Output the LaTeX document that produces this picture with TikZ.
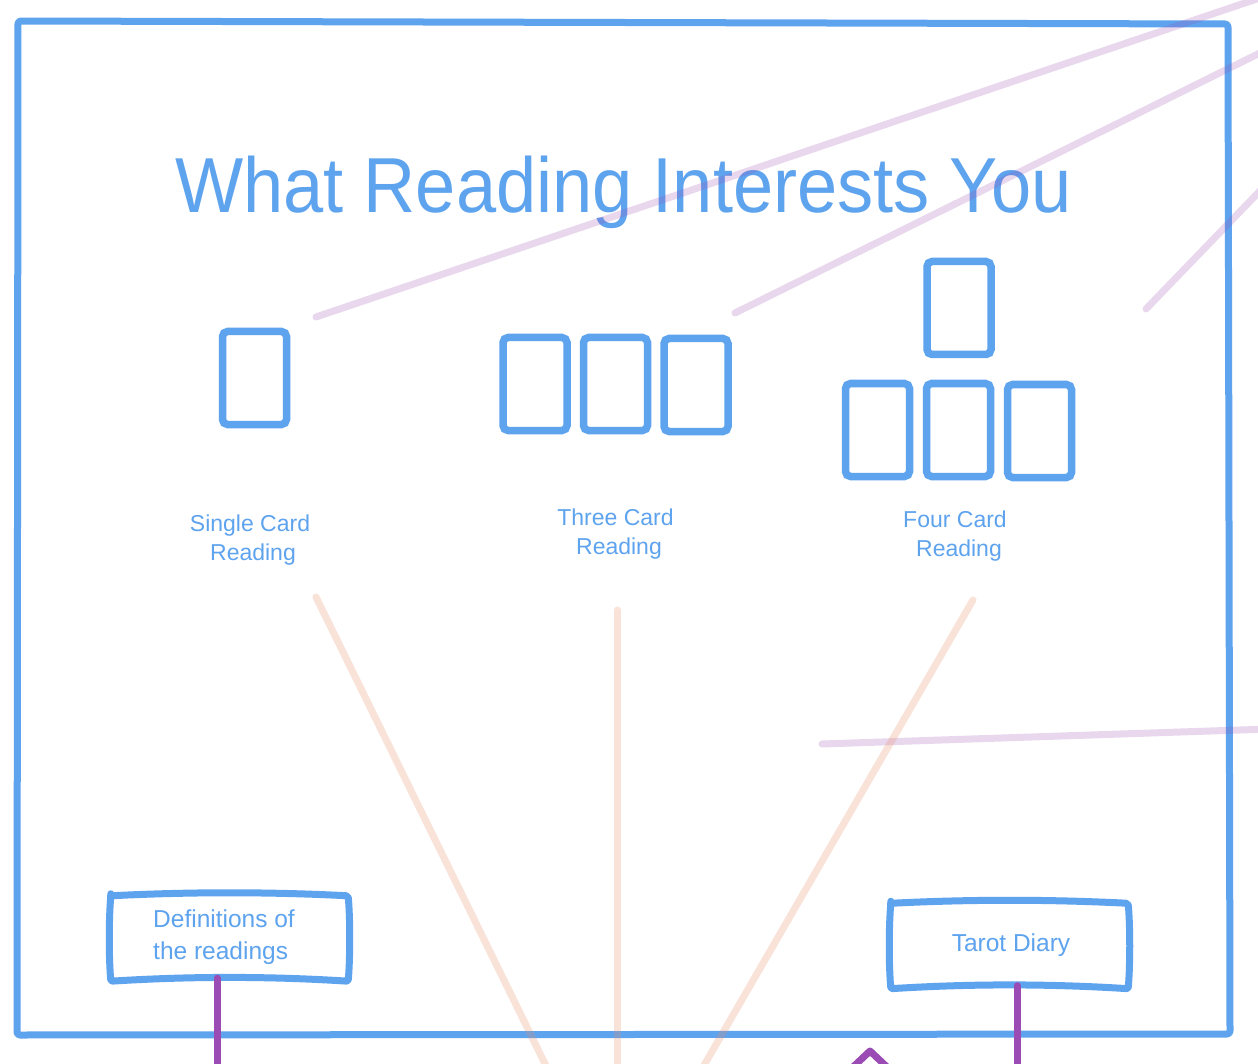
\documentclass[tikz,border=0pt]{standalone}
\usepackage{fontspec}
\usepackage{graphicx}
\setmainfont{Liberation Sans}
\definecolor{bl}{RGB}{94,163,238}
\definecolor{pu}{RGB}{155,75,180}
\definecolor{lil}{RGB}{155,77,181}
\definecolor{pch}{RGB}{235,140,100}
\begin{document}
\begin{tikzpicture}[x=1pt,y=-1pt,
  blueline/.style={draw=bl,line width=7pt,line join=round,line cap=round},
  card/.style={draw=bl,line width=7.5pt,rounded corners=5pt,minimum width=64pt,minimum height=93pt,inner sep=0pt},
  lbl/.style={text=bl,font=\fontsize{23}{23}\selectfont,inner sep=0pt,anchor=base},
  btntext/.style={lbl,font=\fontsize{24.5}{24.5}\selectfont},
  btn/.style={inner sep=0pt,minimum width=237pt,minimum height=85pt},
  lilac/.style={draw=lil,opacity=0.22,line width=7pt,line cap=round},
  peach/.style={draw=pch,opacity=0.25,line width=7pt,line cap=round},
  link/.style={draw=pu,line width=7pt,line cap=round,line join=round}]
\useasboundingbox (0,0) rectangle (1258,1064);
\fill[white] (0,0) rectangle (1258,1064);

% frame
\draw[blueline,rounded corners=3pt] (18,21) -- (1228,24) -- (1230,1034) -- (17,1035) -- cycle;

% title
\node[text=bl,font=\fontsize{78}{78}\selectfont,inner sep=0pt,anchor=base] (title) at (623.5,213) {\scalebox{0.926}[1]{What Reading Interests You}};

% cards
\node[card] (single) at (254.5,378) {};
\node[card] (threeA) at (535,384) {};
\node[card] (threeB) at (615.5,384) {};
\node[card] (threeC) at (696,385) {};
\node[card] (fourT) at (959,308) {};
\node[card] (fourA) at (877.5,430) {};
\node[card] (fourB) at (958.5,430) {};
\node[card] (fourC) at (1039.5,431) {};

% labels
\node[lbl] (singleL1) at (250,531) {Single Card};
\node[lbl] (singleL2) at (253,560) {Reading};
\node[lbl] (threeL1) at (615.5,525) {Three Card};
\node[lbl] (threeL2) at (619,554) {Reading};
\node[lbl] (fourL1) at (955,527) {Four Card};
\node[lbl] (fourL2) at (959,556) {Reading};

% buttons
\node[btn] (def) at (229.5,938.5) {};
\draw[blueline,rounded corners=2pt] (def.north west) .. controls +(80,-4) and +(-80,-4) .. (def.north east)
  .. controls +(2,25) and +(2,-25) .. (def.south east) .. controls +(-80,-5) and +(80,-5) .. (def.south west)
  .. controls +(-2,-25) and +(-2,25) .. cycle;
\node[btntext,anchor=base west] (defT1) at (153,927) {Definitions of};
\node[btntext,anchor=base west] (defT2) at (153,959) {the readings};

\node[btn] (diary) at (1009.5,946) {};
\draw[blueline,rounded corners=2pt] (diary.north west) .. controls +(80,-4) and +(-80,-4) .. (diary.north east)
  .. controls +(2,25) and +(2,-25) .. (diary.south east) .. controls +(-80,-5) and +(80,-5) .. (diary.south west)
  .. controls +(-2,-25) and +(-2,25) .. cycle;
\node[btntext] (diaryT) at (1011,951) {Tarot Diary};

% purple links
\coordinate (defEnd) at (217,1070);
\coordinate (diaryEnd) at (1017,1070);
\draw[link] ([xshift=-12.5pt,yshift=3pt]def.south) -- (defEnd);
\draw[link] ([xshift=7.5pt,yshift=3pt]diary.south) -- (diaryEnd);
\coordinate (tipL) at (852,1068);
\coordinate (tip) at (870,1051);
\coordinate (tipR) at (888,1068);
\draw[link] (tipL) -- (tip) -- (tipR);

% faint lilac lines
\coordinate (la1) at (316,317); \coordinate (la2) at (1270,-5.5);
\coordinate (lb1) at (735,313); \coordinate (lb2) at (1270,48);
\coordinate (lc1) at (1146,309); \coordinate (lc2) at (1270,180.5);
\coordinate (ld1) at (822,744); \coordinate (ld2) at (1270,729);
\draw[lilac] (la1) -- (la2);
\draw[lilac] (lb1) -- (lb2);
\draw[lilac] (lc1) -- (lc2);
\draw[lilac] (ld1) -- (ld2);

% faint peach lines
\coordinate (pa1) at (316,597); \coordinate (pa2) at (550,1074);
\coordinate (pb1) at (617,610); \coordinate (pb2) at (617,1074);
\coordinate (pc1) at (973,600); \coordinate (pc2) at (699,1074);
\draw[peach] (pa1) -- (pa2);
\draw[peach] (pb1) -- (pb2);
\draw[peach] (pc1) -- (pc2);
\end{tikzpicture}
\end{document}
